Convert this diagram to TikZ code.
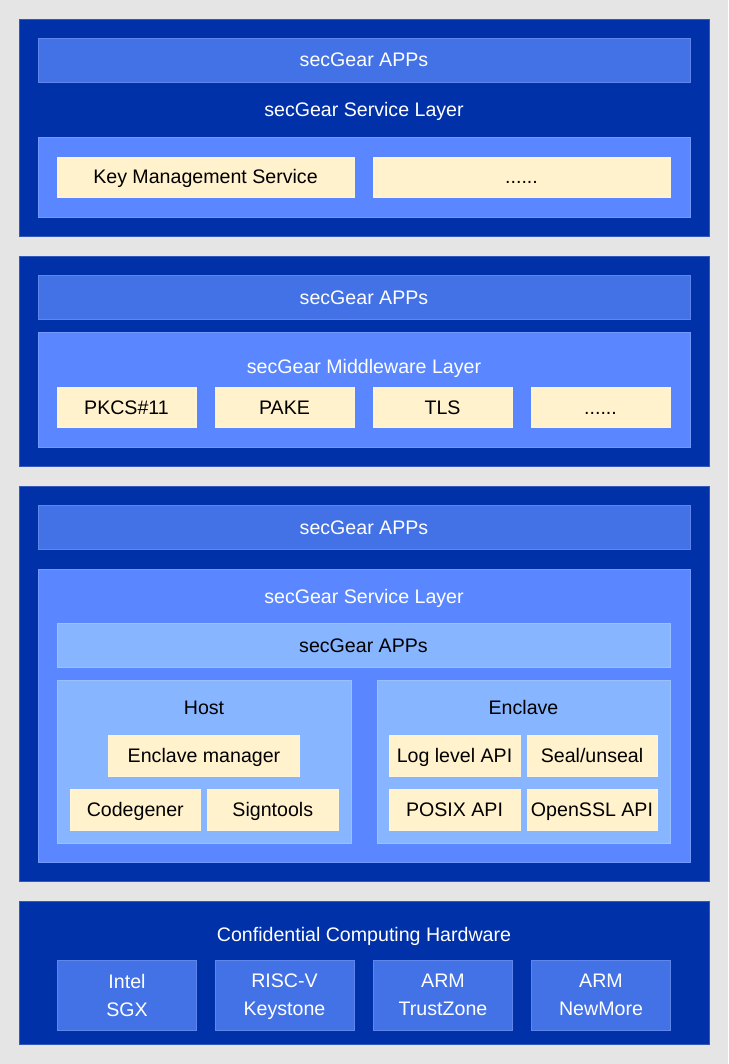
\documentclass[tikz,border=0pt]{standalone}
\usepackage{fontspec}
\setmainfont{Liberation Sans}
\definecolor{bgc}{HTML}{E5E5E5}
\definecolor{darkb}{HTML}{0031A9}
\definecolor{appb}{HTML}{4371E6}
\definecolor{midb}{HTML}{5A87FF}
\definecolor{lightb}{HTML}{87B5FF}
\definecolor{cream}{HTML}{FFF2CC}
\tikzset{
  base/.style={inner sep=0pt, outer sep=0pt, font=\fontsize{19.6}{28}\selectfont},
  oneline/.style={text height=14pt, text depth=0pt},
  layer/.style={base, fill=darkb, draw=darkb!80!white, line width=0.6pt},
  appbar/.style={base, oneline, fill=appb, text=white, draw=appb!85!white, line width=0.6pt},
  midbox/.style={base, fill=midb, draw=midb!85!white, line width=0.6pt},
  lightbox/.style={base, oneline, fill=lightb, text=black, draw=lightb!85!white, line width=0.6pt},
  item/.style={base, oneline, fill=cream, text=black, draw=cream!85!white, line width=0.6pt},
  hwbox/.style={base, fill=appb, text=white, align=center, text depth=0pt, draw=appb!85!white, line width=0.6pt},
  wlabel/.style={base, oneline, text=white},
  blabel/.style={base, oneline, text=black},
}
\newcommand\bx[7]{\node[#6, anchor=north west, minimum width=#4pt, minimum height=#5pt] (#1) at (#2,#3) {#7};}
\begin{document}
\begin{tikzpicture}[x=1pt,y=-1pt]
\useasboundingbox (0,0) rectangle (728,1064);
\fill[bgc] (0,0) rectangle (728,1064);
% Layer 1
\bx{L1}{19}{19}{690}{217}{layer}{}
\bx{appsA}{38}{38}{652}{44}{appbar}{secGear APPs}
\node[wlabel] (svcA) at (364,110) {secGear Service Layer};
\bx{inA}{38}{137}{652}{80}{midbox}{}
\bx{kms}{57}{157}{297}{40}{item}{Key Management Service}
\bx{dotsA}{373}{157}{297}{40}{item}{......}
% Layer 2
\bx{L2}{19}{256}{690}{210}{layer}{}
\bx{appsB}{38}{275}{652}{44}{appbar}{secGear APPs}
\bx{inB}{38}{332}{652}{115}{midbox}{}
\node[wlabel] (midl) at (364,366) {secGear Middleware Layer};
\bx{pkcs}{57}{387}{139}{40}{item}{PKCS\#11}
\bx{pake}{215}{387}{139}{40}{item}{PAKE}
\bx{tls}{373}{387}{139}{40}{item}{TLS}
\bx{dotsB}{531}{387}{139}{40}{item}{......}
% Layer 3
\bx{L3}{19}{486}{690}{395}{layer}{}
\bx{appsC}{38}{505}{652}{44}{appbar}{secGear APPs}
\bx{inC}{38}{569}{652}{293}{midbox}{}
\node[wlabel] (svcC) at (364,596) {secGear Service Layer};
\bx{appsD}{57}{623}{613}{44}{lightbox}{secGear APPs}
\bx{host}{57}{680}{294}{163}{lightbox}{}
\node[blabel] (hostt) at (204,707) {Host};
\bx{encl}{377}{680}{293}{163}{lightbox}{}
\node[blabel] (enclt) at (523.5,707) {Enclave};
\bx{em}{108.5}{735}{191}{41}{item}{Enclave manager}
\bx{cg}{70}{789}{130.5}{41}{item}{Codegener}
\bx{st}{207.5}{789}{130.5}{41}{item}{Signtools}
\bx{logl}{389}{735}{131}{41}{item}{Log level API}
\bx{seal}{527}{735}{130}{41}{item}{Seal/unseal}
\bx{posix}{389}{789}{131}{41}{item}{POSIX API}
\bx{ossl}{527}{789}{130}{41}{item}{OpenSSL API}
% Layer 4
\bx{L4}{19}{901}{690}{143}{layer}{}
\node[wlabel] (hwt) at (364,934) {Confidential Computing Hardware};
\bx{sgx}{57.5}{960}{139}{70}{hwbox}{Intel\\SGX}
\bx{risc}{215}{960}{139}{70}{hwbox}{RISC-V\\Keystone}
\bx{tz}{373.5}{960}{139}{70}{hwbox}{ARM\\TrustZone}
\bx{nm}{531.5}{960}{139}{70}{hwbox}{ARM\\NewMore}
\end{tikzpicture}
\end{document}
